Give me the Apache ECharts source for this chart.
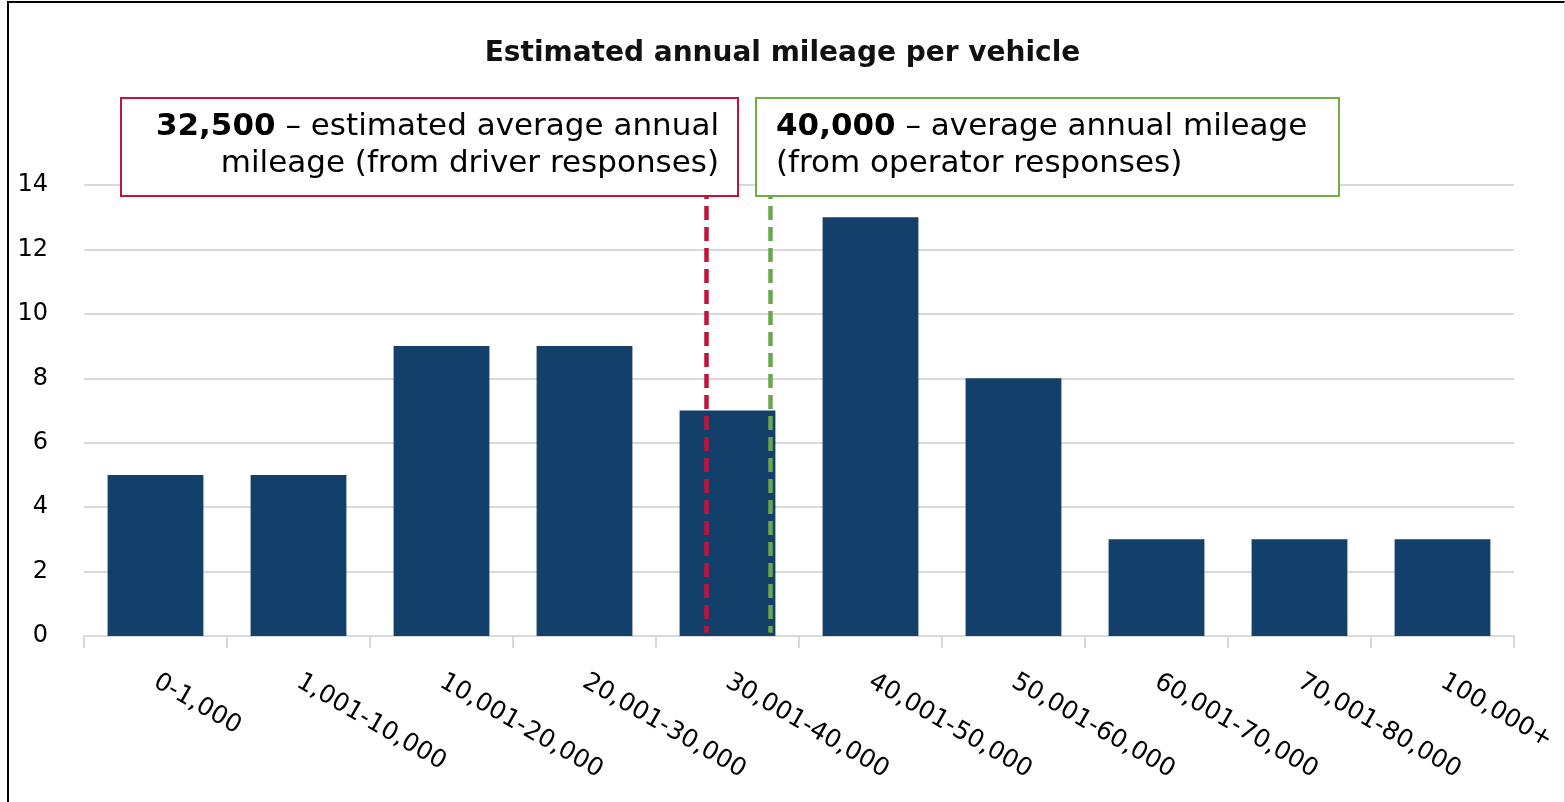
<!DOCTYPE html>
<html>
<head>
<meta charset="utf-8">
<script src="https://cdn.jsdelivr.net/npm/echarts@6/dist/echarts.min.js"></script>
<style>
  html, body { margin: 0; padding: 0; background: #fff; }
  #main { position: absolute; left: 0; top: 0; width: 1565px; height: 802px; }
  #frame { position: absolute; left: 7px; top: 1px; width: 1555px; height: 810px;
           border-left: 2px solid #000; border-top: 2px solid #000; border-right: 1px solid #d9d9d9;
           pointer-events: none; }
</style>
</head>
<body>
<div id="main"></div>
<div id="frame"></div>
<script>
// 里程区间
var categories = ['0-1,000', '1,001-10,000', '10,001-20,000', '20,001-30,000', '30,001-40,000',
                  '40,001-50,000', '50,001-60,000', '60,001-70,000', '70,001-80,000', '100,000+'];
// 车辆数
var counts = [5, 5, 9, 9, 7, 13, 8, 3, 3, 3];
// y轴刻度
var yTicks = [0, 2, 4, 6, 8, 10, 12, 14];
// 平均值参考线的位置（按类别轴的单位）
var driverAvgPos = 3.85;
var operatorAvgPos = 4.30;

var FONT = '"DejaVu Sans", sans-serif';
var myChart = echarts.init(document.getElementById('main'));

var option = {
    animation: false,
    title: {
        text: 'Estimated annual mileage per vehicle',
        left: 'center',
        top: 35,
        textStyle: { fontFamily: FONT, fontSize: 28, fontWeight: 'bold', color: '#111' }
    },
    grid: { left: 84, right: 51, top: 185, bottom: 166 },
    xAxis: [
        {
            type: 'category',
            data: categories,
            axisLine: { lineStyle: { color: '#d9d9d9', width: 2 } },
            axisTick: { show: true, length: 12, lineStyle: { color: '#d9d9d9', width: 2 } },
            axisLabel: { rotate: -30, margin: 44, fontFamily: FONT, fontSize: 25, color: '#000' }
        },
        {
            // 隐藏的数值轴，用来画参考线
            type: 'value',
            min: -0.5,
            max: 9.5,
            show: false
        }
    ],
    yAxis: {
        type: 'value',
        min: yTicks[0],
        max: yTicks[yTicks.length - 1],
        interval: 2,
        axisLine: { show: false },
        axisTick: { show: false },
        splitLine: { lineStyle: { color: '#d9d9d9', width: 2 } },
        axisLabel: { margin: 36, fontFamily: FONT, fontSize: 24, color: '#000' }
    },
    series: [
        {
            type: 'bar',
            data: counts,
            barCategoryGap: '33%',
            itemStyle: { color: '#133f6b' }
        },
        {
            type: 'line',
            xAxisIndex: 1,
            data: [],
            markLine: {
                symbol: 'none',
                silent: true,
                label: { show: false },
                data: [
                    [{ coord: [driverAvgPos, 14], lineStyle: { color: '#c0143c', type: [14, 7], width: 4.5 } },
                     { coord: [driverAvgPos, 0.1] }],
                    [{ coord: [operatorAvgPos, 14], lineStyle: { color: '#6aa84f', type: [14, 7], width: 4.5 } },
                     { coord: [operatorAvgPos, 0.1] }]
                ]
            }
        }
    ],
    graphic: [
        {
            type: 'rect', z: 100,
            shape: { x: 121, y: 98, width: 617, height: 98 },
            style: { fill: '#fff', stroke: '#c0143c', lineWidth: 2 }
        },
        {
            type: 'text', z: 101, x: 719, y: 108,
            style: {
                text: '{b|32,500} – estimated average annual\nmileage (from driver responses)',
                align: 'right',
                fontFamily: FONT, fontSize: 31, lineHeight: 37, fill: '#000',
                rich: { b: { fontFamily: FONT, fontSize: 31, fontWeight: 'bold', fill: '#000' } }
            }
        },
        {
            type: 'rect', z: 100,
            shape: { x: 756, y: 98, width: 583, height: 98 },
            style: { fill: '#fff', stroke: '#70ad47', lineWidth: 2 }
        },
        {
            type: 'text', z: 101, x: 776, y: 108,
            style: {
                text: '{b|40,000} – average annual mileage\n(from operator responses)',
                align: 'left',
                fontFamily: FONT, fontSize: 31, lineHeight: 37, fill: '#000',
                rich: { b: { fontFamily: FONT, fontSize: 31, fontWeight: 'bold', fill: '#000' } }
            }
        }
    ]
};

myChart.setOption(option);
</script>
</body>
</html>
